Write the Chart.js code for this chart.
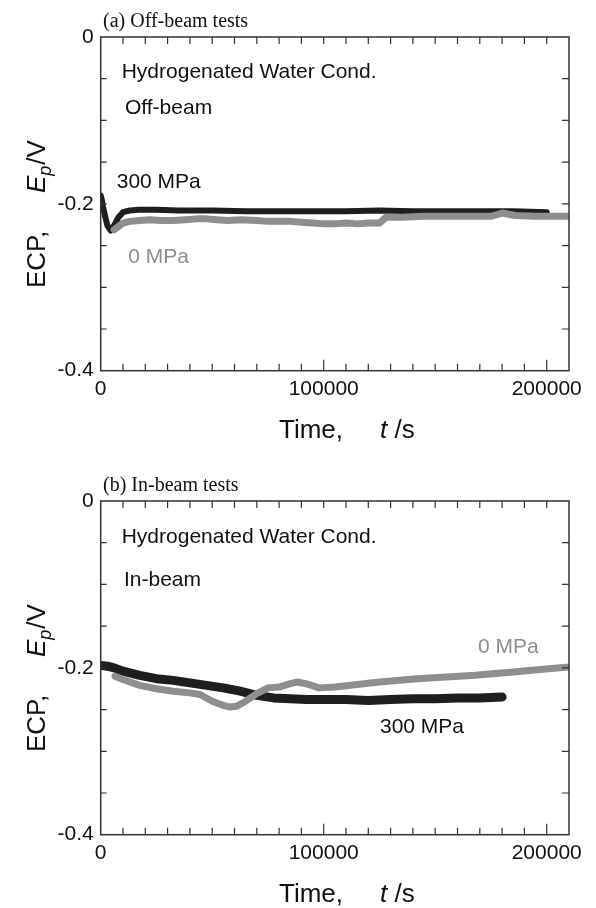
<!DOCTYPE html>
<html>
<head>
<meta charset="utf-8">
<script src="https://cdn.jsdelivr.net/npm/chart.js@4"></script>
<style>
  body { margin: 0; background: #fff; }
  #wrap { position: relative; width: 596px; height: 908px; overflow: hidden; }
  canvas { position: absolute; left: 0; }
  #chartA { top: 0; }
  #chartB { top: 464px; }
</style>
</head>
<body>
<div id="wrap">
  <canvas id="chartA" width="596" height="464"></canvas>
  <canvas id="chartB" width="596" height="464"></canvas>
</div>
<script>
// (a) off-beam tests
const timeA300 = [0, 500, 1000, 2000, 3000, 4500, 6000, 8000, 10000, 13000, 17000, 25000, 35000, 50000, 65000, 80000, 95000, 110000, 125000, 140000, 155000, 170000, 185000, 200000];
const ecpA300 = [-0.190, -0.195, -0.203, -0.215, -0.226, -0.232, -0.226, -0.216, -0.210, -0.208, -0.207, -0.207, -0.208, -0.208, -0.209, -0.209, -0.209, -0.209, -0.208, -0.209, -0.209, -0.209, -0.209, -0.210];
const timeA0 = [6000, 8000, 10000, 13000, 17500, 22000, 27000, 32500, 38000, 43000, 47500, 52000, 57000, 63000, 70000, 75000, 80000, 85000, 90000, 95000, 100000, 105000, 110000, 115000, 120000, 125000, 128000, 135000, 145000, 155000, 165000, 175000, 180000, 186000, 195000, 203000, 210000];
const ecpA0 = [-0.231, -0.227, -0.223, -0.221, -0.220, -0.219, -0.220, -0.220, -0.219, -0.218, -0.218, -0.219, -0.220, -0.219, -0.220, -0.221, -0.221, -0.221, -0.222, -0.223, -0.224, -0.224, -0.223, -0.224, -0.223, -0.223, -0.216, -0.216, -0.215, -0.215, -0.215, -0.215, -0.211, -0.214, -0.215, -0.215, -0.215];

// (b) in-beam tests
const timeB300 = [0, 3000, 6000, 10000, 17500, 25000, 32500, 40000, 47500, 55000, 62500, 70000, 77500, 85000, 92500, 100000, 110000, 120000, 130000, 140000, 150000, 160000, 170000, 180000];
const ecpB300 = [-0.197, -0.198, -0.200, -0.204, -0.209, -0.213, -0.215, -0.218, -0.221, -0.224, -0.228, -0.233, -0.236, -0.237, -0.238, -0.238, -0.238, -0.239, -0.238, -0.237, -0.237, -0.236, -0.236, -0.235];
const timeB0 = [6400, 10000, 17500, 25000, 32500, 40000, 44500, 50000, 55000, 58000, 61000, 65000, 70000, 75000, 80000, 85000, 88000, 92000, 98000, 105000, 115000, 125000, 142000, 155000, 168000, 185000, 197000, 210000];
const ecpB0 = [-0.210, -0.214, -0.221, -0.225, -0.228, -0.230, -0.232, -0.240, -0.245, -0.247, -0.246, -0.240, -0.231, -0.224, -0.223, -0.219, -0.217, -0.219, -0.224, -0.223, -0.220, -0.217, -0.213, -0.211, -0.209, -0.205, -0.202, -0.199];

const xLabels = [0, 100000, 200000];
const yLabels = [0, -0.2, -0.4];

const SANS = '"Liberation Sans", Arial, sans-serif';
const SERIF = '"Liberation Serif", "Times New Roman", serif';
const BLACK = '#1e1e1e';
const GRAY = '#8e8e8e';

function toPoints(xs, ys) {
  return xs.map((t, i) => ({x: t, y: ys[i]}));
}

// frame, inward ticks and all texts
const framePlugin = {
  id: 'framePlugin',
  afterDraw(chart, args, opts) {
    const {ctx, chartArea: a, scales: {x, y}} = chart;
    ctx.save();
    ctx.strokeStyle = '#333';
    ctx.lineWidth = 1.5;
    ctx.strokeRect(a.left, a.top, a.right - a.left, a.bottom - a.top);

    ctx.lineWidth = 1.2;
    ctx.beginPath();
    for (let t = 10000; t < 210000; t += 10000) {
      const px = x.getPixelForValue(t);
      const len = xLabels.includes(t) ? 11 : 7;
      ctx.moveTo(px, a.bottom); ctx.lineTo(px, a.bottom - len);
      ctx.moveTo(px, a.top); ctx.lineTo(px, a.top + 7);
    }
    for (let k = 1; k < 8; k++) {
      const py = y.getPixelForValue(-0.05 * k);
      ctx.moveTo(a.left, py); ctx.lineTo(a.left + 6, py);
      ctx.moveTo(a.right, py); ctx.lineTo(a.right - 7, py);
    }
    ctx.stroke();

    ctx.textBaseline = 'alphabetic';
    ctx.textAlign = 'left';
    ctx.fillStyle = '#111';
    ctx.font = '20px ' + SERIF;
    ctx.fillText(opts.title, 103, 27);

    ctx.textBaseline = 'middle';
    ctx.font = '21px ' + SANS;
    opts.notes.forEach(n => {
      ctx.fillStyle = n.color;
      ctx.fillText(n.text, n.x, n.y);
    });

    // x title: Time,    t /s
    ctx.fillStyle = '#111';
    ctx.textBaseline = 'alphabetic';
    ctx.font = '26px ' + SANS;
    ctx.fillText('Time,', 279, 438);
    ctx.font = 'italic 26px ' + SANS;
    ctx.fillText('t', 380, 438);
    const tw = ctx.measureText('t').width;
    ctx.font = '26px ' + SANS;
    ctx.fillText(' /s', 380 + tw, 438);

    // y title: ECP,    Ep/V
    ctx.translate(45, 288);
    ctx.rotate(-Math.PI / 2);
    ctx.font = '26px ' + SANS;
    ctx.fillText('ECP,', 0, 0);
    ctx.font = 'italic 26px ' + SANS;
    ctx.fillText('E', 95, 0);
    let w = 95 + ctx.measureText('E').width;
    ctx.font = 'italic 18px ' + SANS;
    ctx.fillText('p', w, 6);
    w += ctx.measureText('p').width + 1;
    ctx.font = '26px ' + SANS;
    ctx.fillText('/V', w, 0);
    ctx.restore();
  }
};

function makeChart(id, gray, black, title, notes, blackWidth) {
  return new Chart(document.getElementById(id), {
    type: 'line',
    data: {
      datasets: [
        {data: gray, borderColor: GRAY, borderWidth: 7, pointRadius: 0,
         borderCapStyle: 'round', borderJoinStyle: 'round', tension: 0},
        {data: black, borderColor: BLACK, borderWidth: blackWidth, pointRadius: 0,
         borderCapStyle: 'round', borderJoinStyle: 'round', tension: 0}
      ]
    },
    options: {
      responsive: false,
      animation: false,
      devicePixelRatio: 1,
      layout: {padding: {top: 37, right: 27, bottom: 53.3, left: 0}},
      plugins: {
        legend: {display: false},
        tooltip: {enabled: false},
        framePlugin: {title: title, notes: notes}
      },
      scales: {
        x: {
          type: 'linear', min: 0, max: 210000,
          grid: {display: false, drawTicks: false},
          border: {display: false},
          afterFit: s => { s.height = 40; },
          ticks: {
            stepSize: 10000, autoSkip: false, maxRotation: 0, padding: 6,
            color: '#111', font: {family: SANS, size: 21},
            callback: v => xLabels.includes(v) ? String(v) : ''
          }
        },
        y: {
          min: -0.4, max: 0,
          grid: {display: false, drawTicks: false},
          border: {display: false},
          afterFit: s => { s.width = 100.7; },
          ticks: {
            stepSize: 0.05, autoSkip: false, padding: 7,
            color: '#111', font: {family: SANS, size: 21},
            callback: v => {
              const hit = yLabels.find(l => Math.abs(l - v) < 1e-6);
              if (hit === undefined) return '';
              return hit === 0 ? '0' : hit.toFixed(1);
            }
          }
        }
      }
    },
    plugins: [framePlugin]
  });
}

makeChart('chartA', toPoints(timeA0, ecpA0), toPoints(timeA300, ecpA300),
  '(a) Off-beam tests', [
    {text: 'Hydrogenated Water Cond.', x: 121.7, y: 72, color: '#111'},
    {text: 'Off-beam', x: 125, y: 108, color: '#111'},
    {text: '300 MPa', x: 116.7, y: 182, color: '#111'},
    {text: '0 MPa', x: 128.3, y: 257, color: GRAY}
  ], 6);

makeChart('chartB', toPoints(timeB0, ecpB0), toPoints(timeB300, ecpB300),
  '(b) In-beam tests', [
    {text: 'Hydrogenated Water Cond.', x: 121.7, y: 73, color: '#111'},
    {text: 'In-beam', x: 124, y: 116, color: '#111'},
    {text: '0 MPa', x: 478, y: 183, color: GRAY},
    {text: '300 MPa', x: 380, y: 263, color: '#111'}
  ], 9);
</script>
</body>
</html>
